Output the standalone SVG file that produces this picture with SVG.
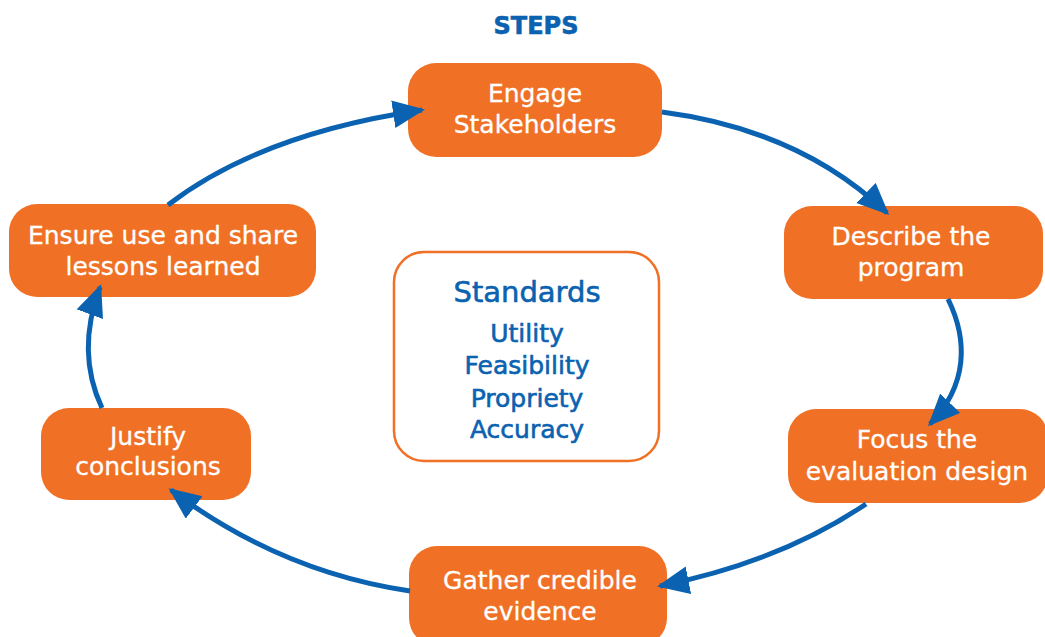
<svg xmlns="http://www.w3.org/2000/svg" width="1045" height="637" viewBox="0 0 1045 637">
  <defs>
    <marker id="arr" markerUnits="userSpaceOnUse" markerWidth="34" markerHeight="30" refX="29" refY="14" orient="auto">
      <path d="M0,0 L32,14 L0,28 z" fill="#0a62b0"/>
    </marker>
    <style>
      .step rect { fill: #f07126; }
      .step text { fill: #ffffff; font-family: "DejaVu Sans", "Liberation Sans", sans-serif; font-size: 25px; text-anchor: middle; stroke: #ffffff; stroke-width: 0.3; }
      .blue { fill: #0a62b0; font-family: "DejaVu Sans", "Liberation Sans", sans-serif; text-anchor: middle; stroke: #0a62b0; stroke-width: 0.6; }
      .conn path { fill: none; stroke: #0a62b0; stroke-width: 5; marker-end: url(#arr); }
    </style>
  </defs>
  <rect width="1045" height="637" fill="#ffffff"/>

  <text id="title" class="blue" x="536" y="34" font-size="24" font-weight="bold" stroke-width="0">STEPS</text>

  <g id="engage" class="step">
    <rect x="408" y="63" width="254" height="94" rx="28"/>
    <text x="535" y="102">Engage</text>
    <text x="535" y="133">Stakeholders</text>
  </g>
  <g id="describe" class="step">
    <rect x="784" y="206" width="259" height="93" rx="28"/>
    <text x="911" y="245">Describe the</text>
    <text x="911" y="276">program</text>
  </g>
  <g id="focus" class="step">
    <rect x="788" y="409" width="260" height="94" rx="28"/>
    <text x="917" y="448">Focus the</text>
    <text x="917" y="480">evaluation design</text>
  </g>
  <g id="gather" class="step">
    <rect x="409" y="546" width="258" height="100" rx="28"/>
    <text x="540" y="589">Gather credible</text>
    <text x="540" y="620">evidence</text>
  </g>
  <g id="justify" class="step">
    <rect x="41" y="408" width="210" height="92" rx="28"/>
    <text x="148" y="445">Justify</text>
    <text x="148" y="475">conclusions</text>
  </g>
  <g id="ensure" class="step">
    <rect x="9" y="204" width="307" height="93" rx="28"/>
    <text x="163" y="244">Ensure use and share</text>
    <text x="163" y="275">lessons learned</text>
  </g>

  <g id="standards">
    <rect x="394" y="252" width="265" height="209" rx="30" fill="#ffffff" stroke="#f07126" stroke-width="2.5"/>
    <text class="blue" x="527" y="302" font-size="29">Standards</text>
    <text class="blue" x="527" y="342" font-size="25">Utility</text>
    <text class="blue" x="527" y="374" font-size="25">Feasibility</text>
    <text class="blue" x="527" y="407" font-size="25">Propriety</text>
    <text class="blue" x="527" y="438" font-size="25">Accuracy</text>
  </g>

  <g id="connectors" class="conn">
    <path d="M662,112 Q800,130 887,213"/>
    <path d="M948,299 C968,340 968,385 930,424"/>
    <path d="M866,504 Q780,562 660,586"/>
    <path d="M410,591 Q280,572 171,490"/>
    <path d="M102,408 C84,370 84,330 100,287"/>
    <path d="M168,205 Q260,134 422,110"/>
  </g>
</svg>
